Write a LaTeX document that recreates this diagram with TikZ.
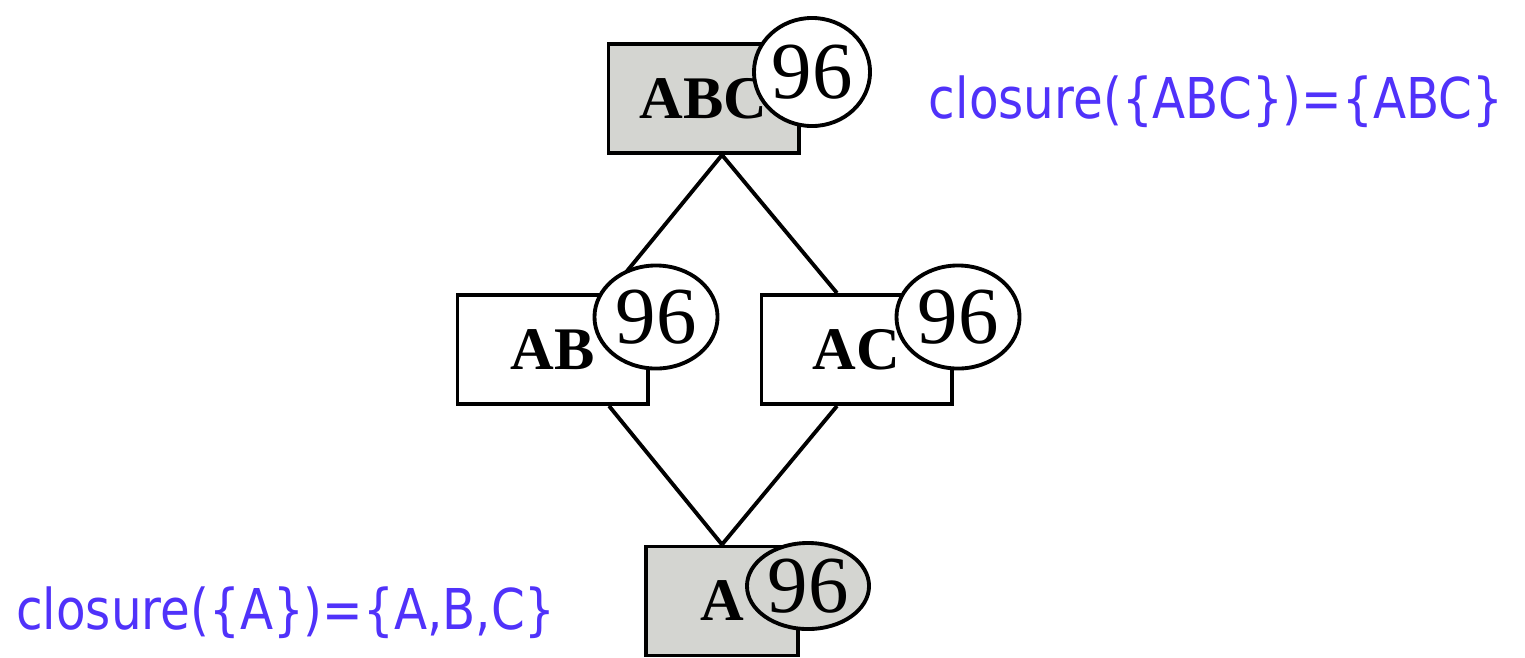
\documentclass[tikz,border=0pt]{standalone}
\usepackage{fontspec}
\usepackage{graphicx}
\setmainfont{Liberation Serif}
\newfontfamily\notefont{DejaVu Sans}
\usetikzlibrary{shapes.geometric}

\definecolor{closedgray}{RGB}{212,213,209}
\definecolor{noteblue}{RGB}{80,50,250}

\begin{document}
\begin{tikzpicture}[x=0.01cm, y=-0.01cm,
    itemset/.style={draw, line width=1.1pt, rectangle, inner sep=0pt, minimum width=1.9cm, minimum height=1.09cm, font=\fontsize{17.2}{18}\selectfont\bfseries},
    closedset/.style={itemset, fill=closedgray},
    support/.style={draw, line width=1.1pt, ellipse, inner sep=0pt, fill=white, minimum width=1.2cm, minimum height=1.05cm, font=\fontsize{23}{24}\selectfont},
    edge/.style={line width=1.1pt},
    note/.style={text=noteblue, inner sep=0pt, anchor=base, font=\notefont\fontsize{16}{18}\selectfont}]
    \useasboundingbox (0,0) rectangle (1525,657);

    % itemsets of the lattice
    \node[closedset] (abc) at (703.5,98.5) {ABC};
    \node[itemset] (ab) at (552.5,349.5) {AB};
    \node[itemset] (ac) at (856.5,349.5) {AC};
    \node[closedset, minimum width=1.52cm] (a) at (722,601) {A};

    % edges between the itemsets
    \draw[edge] (abc.south -| a.north) -- ([xshift=0.565cm]ab.north);
    \draw[edge] (abc.south -| a.north) -- ([xshift=-0.195cm]ac.north);
    \draw[edge] ([xshift=0.565cm]ab.south) -- (a.north);
    \draw[edge] ([xshift=-0.195cm]ac.south) -- (a.north);

    % supports
    \node[support, minimum width=1.16cm, minimum height=1.08cm] (abc-sup) at (812,72) {96};
    \node[support, minimum width=1.23cm, minimum height=1.03cm] (ab-sup) at (656,317) {96};
    \node[support, minimum width=1.23cm, minimum height=1.03cm] (ac-sup) at (958,317) {96};
    \node[support, fill=closedgray, minimum width=1.22cm, minimum height=0.86cm] (a-sup) at (808,586) {96};

    % closures
    \node[note] (abc-note) at (1216,118) {\scalebox{0.86}[1]{closure(\{ABC\})=\{ABC\}}};
    \node[note] (a-note) at (286,629) {\scalebox{0.86}[1]{closure(\{A\})=\{A,B,C\}}};
\end{tikzpicture}
\end{document}
